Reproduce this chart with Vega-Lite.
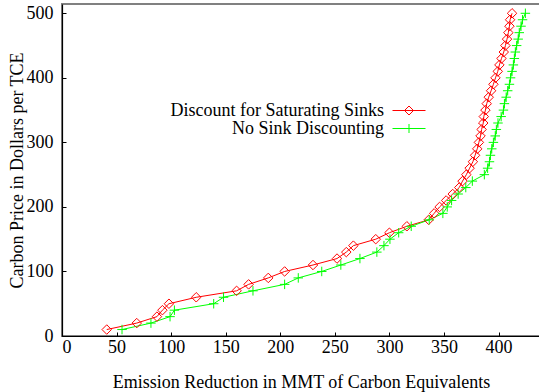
{
  "$schema": "https://vega.github.io/schema/vega-lite/v6.json",
  "width": 478,
  "height": 332,
  "autosize": {"type": "none"},
  "padding": {"left": 62, "top": 4, "right": 0, "bottom": 56},
  "background": "white",
  "config": {
    "view": {"stroke": "#808080", "strokeWidth": 2},
    "font": "Liberation Serif",
    "axis": {
      "labelFont": "Liberation Serif",
      "labelFontSize": 18,
      "labelColor": "black",
      "titleFont": "Liberation Serif",
      "titleFontSize": 18,
      "titleFontWeight": "normal",
      "titleColor": "black",
      "domainColor": "black",
      "tickColor": "black",
      "tickSize": -4,
      "grid": false
    },
    "legend": {"labelFont": "Liberation Serif"}
  },
  "data": {
    "values": [
      {"series": "Discount for Saturating Sinks", "x": 41, "y": 10},
      {"series": "Discount for Saturating Sinks", "x": 68.5, "y": 20},
      {"series": "Discount for Saturating Sinks", "x": 87, "y": 30},
      {"series": "Discount for Saturating Sinks", "x": 92, "y": 40},
      {"series": "Discount for Saturating Sinks", "x": 98, "y": 50},
      {"series": "Discount for Saturating Sinks", "x": 123, "y": 60},
      {"series": "Discount for Saturating Sinks", "x": 160, "y": 70},
      {"series": "Discount for Saturating Sinks", "x": 171, "y": 80},
      {"series": "Discount for Saturating Sinks", "x": 189, "y": 90},
      {"series": "Discount for Saturating Sinks", "x": 204, "y": 100},
      {"series": "Discount for Saturating Sinks", "x": 230, "y": 110},
      {"series": "Discount for Saturating Sinks", "x": 252, "y": 120},
      {"series": "Discount for Saturating Sinks", "x": 260.5, "y": 130},
      {"series": "Discount for Saturating Sinks", "x": 267, "y": 140},
      {"series": "Discount for Saturating Sinks", "x": 287.5, "y": 150},
      {"series": "Discount for Saturating Sinks", "x": 300, "y": 160},
      {"series": "Discount for Saturating Sinks", "x": 316, "y": 170},
      {"series": "Discount for Saturating Sinks", "x": 336, "y": 180},
      {"series": "Discount for Saturating Sinks", "x": 341, "y": 190},
      {"series": "Discount for Saturating Sinks", "x": 346, "y": 200},
      {"series": "Discount for Saturating Sinks", "x": 352, "y": 210},
      {"series": "Discount for Saturating Sinks", "x": 358, "y": 220},
      {"series": "Discount for Saturating Sinks", "x": 364, "y": 230},
      {"series": "Discount for Saturating Sinks", "x": 367, "y": 240},
      {"series": "Discount for Saturating Sinks", "x": 370.5, "y": 250},
      {"series": "Discount for Saturating Sinks", "x": 373.5, "y": 260},
      {"series": "Discount for Saturating Sinks", "x": 376.5, "y": 270},
      {"series": "Discount for Saturating Sinks", "x": 378.5, "y": 280},
      {"series": "Discount for Saturating Sinks", "x": 380.5, "y": 290},
      {"series": "Discount for Saturating Sinks", "x": 382, "y": 300},
      {"series": "Discount for Saturating Sinks", "x": 383.5, "y": 310},
      {"series": "Discount for Saturating Sinks", "x": 384.5, "y": 320},
      {"series": "Discount for Saturating Sinks", "x": 386, "y": 330},
      {"series": "Discount for Saturating Sinks", "x": 386.5, "y": 340},
      {"series": "Discount for Saturating Sinks", "x": 388, "y": 350},
      {"series": "Discount for Saturating Sinks", "x": 389.2, "y": 360},
      {"series": "Discount for Saturating Sinks", "x": 391, "y": 370},
      {"series": "Discount for Saturating Sinks", "x": 393.2, "y": 380},
      {"series": "Discount for Saturating Sinks", "x": 395.3, "y": 390},
      {"series": "Discount for Saturating Sinks", "x": 397.2, "y": 400},
      {"series": "Discount for Saturating Sinks", "x": 399.3, "y": 410},
      {"series": "Discount for Saturating Sinks", "x": 400.8, "y": 420},
      {"series": "Discount for Saturating Sinks", "x": 402.7, "y": 430},
      {"series": "Discount for Saturating Sinks", "x": 404.8, "y": 440},
      {"series": "Discount for Saturating Sinks", "x": 406.3, "y": 450},
      {"series": "Discount for Saturating Sinks", "x": 407.8, "y": 460},
      {"series": "Discount for Saturating Sinks", "x": 409, "y": 470},
      {"series": "Discount for Saturating Sinks", "x": 410, "y": 480},
      {"series": "Discount for Saturating Sinks", "x": 410.6, "y": 490},
      {"series": "Discount for Saturating Sinks", "x": 412.4, "y": 500},
      {"series": "No Sink Discounting", "x": 55, "y": 10},
      {"series": "No Sink Discounting", "x": 81.5, "y": 20},
      {"series": "No Sink Discounting", "x": 99, "y": 30},
      {"series": "No Sink Discounting", "x": 103, "y": 40},
      {"series": "No Sink Discounting", "x": 139, "y": 50},
      {"series": "No Sink Discounting", "x": 148, "y": 60},
      {"series": "No Sink Discounting", "x": 175, "y": 70},
      {"series": "No Sink Discounting", "x": 204, "y": 80},
      {"series": "No Sink Discounting", "x": 216.5, "y": 90},
      {"series": "No Sink Discounting", "x": 238, "y": 100},
      {"series": "No Sink Discounting", "x": 255.5, "y": 110},
      {"series": "No Sink Discounting", "x": 273, "y": 120},
      {"series": "No Sink Discounting", "x": 288.5, "y": 130},
      {"series": "No Sink Discounting", "x": 295, "y": 140},
      {"series": "No Sink Discounting", "x": 300.5, "y": 150},
      {"series": "No Sink Discounting", "x": 308.5, "y": 160},
      {"series": "No Sink Discounting", "x": 320, "y": 170},
      {"series": "No Sink Discounting", "x": 336.5, "y": 180},
      {"series": "No Sink Discounting", "x": 349, "y": 190},
      {"series": "No Sink Discounting", "x": 353, "y": 200},
      {"series": "No Sink Discounting", "x": 357, "y": 210},
      {"series": "No Sink Discounting", "x": 363, "y": 220},
      {"series": "No Sink Discounting", "x": 370, "y": 230},
      {"series": "No Sink Discounting", "x": 376, "y": 240},
      {"series": "No Sink Discounting", "x": 387, "y": 250},
      {"series": "No Sink Discounting", "x": 390, "y": 260},
      {"series": "No Sink Discounting", "x": 391.7, "y": 270},
      {"series": "No Sink Discounting", "x": 392.6, "y": 280},
      {"series": "No Sink Discounting", "x": 393.8, "y": 290},
      {"series": "No Sink Discounting", "x": 395.3, "y": 300},
      {"series": "No Sink Discounting", "x": 397, "y": 310},
      {"series": "No Sink Discounting", "x": 398, "y": 320},
      {"series": "No Sink Discounting", "x": 399.5, "y": 330},
      {"series": "No Sink Discounting", "x": 402.4, "y": 340},
      {"series": "No Sink Discounting", "x": 404.5, "y": 350},
      {"series": "No Sink Discounting", "x": 405.4, "y": 360},
      {"series": "No Sink Discounting", "x": 407, "y": 370},
      {"series": "No Sink Discounting", "x": 408.4, "y": 380},
      {"series": "No Sink Discounting", "x": 410, "y": 390},
      {"series": "No Sink Discounting", "x": 411, "y": 400},
      {"series": "No Sink Discounting", "x": 412.4, "y": 410},
      {"series": "No Sink Discounting", "x": 413.6, "y": 420},
      {"series": "No Sink Discounting", "x": 414.5, "y": 430},
      {"series": "No Sink Discounting", "x": 415.4, "y": 440},
      {"series": "No Sink Discounting", "x": 416.6, "y": 450},
      {"series": "No Sink Discounting", "x": 418, "y": 460},
      {"series": "No Sink Discounting", "x": 419, "y": 470},
      {"series": "No Sink Discounting", "x": 420.6, "y": 480},
      {"series": "No Sink Discounting", "x": 422, "y": 490},
      {"series": "No Sink Discounting", "x": 424.6, "y": 500}
    ]
  },
  "layer": [
    {
      "mark": {"type": "line", "strokeWidth": 1, "clip": true},
      "encoding": {
        "x": {
          "field": "x", "type": "quantitative",
          "scale": {"domain": [0, 438], "nice": false, "zero": false},
          "axis": {
            "values": [0, 50, 100, 150, 200, 250, 300, 350, 400],
            "title": "Emission Reduction in MMT of Carbon Equivalents",
            "labelPadding": 6,
            "titlePadding": 17,
            "domainWidth": 1.2
          }
        },
        "y": {
          "field": "y", "type": "quantitative",
          "scale": {"domain": [0, 514.4], "nice": false, "zero": false},
          "axis": {
            "values": [0, 100, 200, 300, 400, 500],
            "title": "Carbon Price in Dollars per TCE",
            "labelPadding": 13,
            "titlePadding": 0,
            "domainWidth": 1.2
          }
        },
        "order": {"field": "y", "type": "quantitative"},
        "color": {
          "field": "series", "type": "nominal",
          "scale": {
            "domain": ["Discount for Saturating Sinks", "No Sink Discounting"],
            "range": ["#ff0000", "#00ff00"]
          },
          "legend": {
            "title": null,
            "orient": "none",
            "legendX": 338,
            "legendY": 97.5,
            "padding": 0,
            "rowPadding": 0,
            "symbolSize": 100,
            "symbolStrokeWidth": 1,
            "labelFont": "Liberation Serif",
            "labelFontSize": 18,
            "labelColor": "black",
            "labelAlign": "right",
            "labelOffset": -34,
            "labelLimit": 400,
            "encode": {
              "symbols": {
                "update": {
                  "shape": {"signal": "datum.value === 'Discount for Saturating Sinks' ? 'M-3.3,0H3.3M0,-0.9L0.9,0L0,0.9L-0.9,0Z' : 'M-3.3,0H3.3M0,-0.9V0.9M-0.9,0H0.9'"},
                  "fill": {"value": "transparent"},
                  "strokeWidth": {"value": 1}
                }
              },
              "labels": {
                "update": {"font": {"value": "Liberation Serif"}}
              }
            }
          }
        }
      }
    },
    {
      "transform": [{"filter": "datum.series === 'Discount for Saturating Sinks'"}],
      "mark": {"type": "point", "shape": "M0,-1L1,0L0,1L-1,0Z", "size": 90, "filled": false, "color": "#ff0000", "strokeWidth": 1, "opacity": 1, "clip": true},
      "encoding": {
        "x": {"field": "x", "type": "quantitative"},
        "y": {"field": "y", "type": "quantitative"}
      }
    },
    {
      "transform": [{"filter": "datum.series === 'No Sink Discounting'"}],
      "mark": {"type": "point", "shape": "M-1,0H1M0,-1V1", "size": 90, "filled": false, "color": "#00ff00", "strokeWidth": 1, "opacity": 1, "clip": true},
      "encoding": {
        "x": {"field": "x", "type": "quantitative"},
        "y": {"field": "y", "type": "quantitative"}
      }
    }
  ]
}
